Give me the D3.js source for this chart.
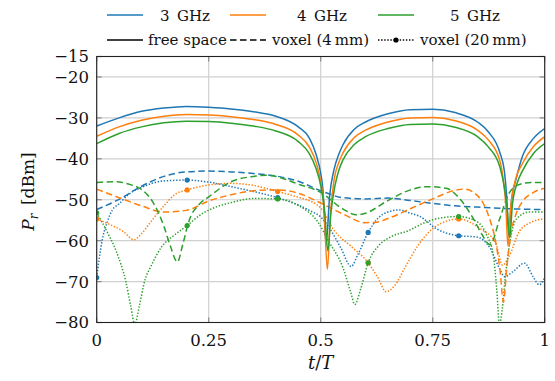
<!DOCTYPE html>
<html><head><meta charset="utf-8">
<script src="https://cdn.jsdelivr.net/npm/d3@7"></script>
<style>
body{margin:0;background:#fff}
svg{display:block}
svg text{font-family:"DejaVu Serif",serif;fill:#111}
</style>
</head><body>
<svg id="c" width="555" height="381"></svg>
<script>
// ---------------- data ----------------
const xTicks = [0, 0.25, 0.5, 0.75, 1];
const xTickLabels = ["0", "0.25", "0.5", "0.75", "1"];
const yTicks = [-15, -20, -30, -40, -50, -60, -70, -80];
const yTickLabels = ["\u221215", "\u221220", "\u221230", "\u221240", "\u221250", "\u221260", "\u221270", "\u221280"];
const freqLabels = ["3\u2002GHz", "4\u2002GHz", "5\u2002GHz"];
const styleLabels = ["free space", "voxel (4\u2009mm)", "voxel (20\u2009mm)"];

// free space
const tFS3 = [0,0.05,0.1,0.15,0.2,0.25,0.3,0.35,0.4,0.45,0.475,0.49,0.5,0.505,0.512,0.52,0.53,0.54,0.55,0.575,0.6,0.65,0.7,0.75,0.8,0.85,0.875,0.9,0.91,0.915,0.92,0.925,0.937,0.95,0.975,1];
const pFS3 = [-32.0,-30.0,-28.4,-27.6,-27.2,-27.4,-27.8,-28.5,-29.6,-32.2,-35.0,-39.0,-43.5,-47.5,-61,-49,-42.5,-39,-36.5,-32.8,-31.0,-29.0,-28.0,-27.9,-28.7,-31.0,-33.5,-38.5,-43,-49,-59,-51,-44.6,-39.5,-35.0,-32.6];
const tFS4 = [0,0.05,0.1,0.15,0.2,0.25,0.3,0.35,0.4,0.45,0.475,0.49,0.5,0.507,0.5148,0.522,0.53,0.54,0.55,0.575,0.6,0.65,0.7,0.75,0.8,0.85,0.875,0.9,0.908,0.913,0.918,0.924,0.935,0.95,0.975,1];
const pFS4 = [-34.5,-32.2,-30.6,-29.6,-29.2,-29.3,-29.7,-30.4,-31.6,-34.2,-37.2,-41,-45.5,-51,-67,-53,-45,-41,-38.5,-34.8,-33.0,-31.0,-30.0,-29.9,-30.7,-33.0,-35.5,-40.5,-45.5,-51,-61.3,-52,-45,-41.2,-37.0,-34.6];
const tFS5 = [0,0.05,0.1,0.15,0.2,0.25,0.3,0.35,0.4,0.45,0.475,0.49,0.5,0.509,0.516,0.523,0.532,0.54,0.55,0.575,0.6,0.65,0.7,0.75,0.8,0.85,0.875,0.9,0.91,0.916,0.922,0.928,0.94,0.95,0.975,1];
const pFS5 = [-36.3,-33.8,-32.2,-31.2,-30.8,-30.9,-31.3,-32.0,-33.2,-35.8,-38.8,-42.5,-46.5,-53,-62.5,-53,-46.5,-43,-40.2,-36.5,-34.6,-32.6,-31.6,-31.5,-32.3,-34.6,-37.2,-42,-47,-52,-59.3,-51,-45.5,-43,-38.7,-36.3];

// voxel 4 mm (dashed)
const tV4_3 = [0,0.05,0.1,0.15,0.2,0.25,0.3,0.35,0.4,0.45,0.5,0.55,0.6,0.65,0.7,0.75,0.8,0.85,0.9,0.95,1];
const pV4_3 = [-52.4,-49.9,-46.7,-44.3,-43.2,-43.0,-43.2,-43.6,-44.2,-45.5,-47.8,-49.5,-49.8,-49.6,-50.2,-50.9,-51.5,-51.8,-52.1,-52.3,-52.4];
const tV4_4 = [0,0.05,0.1,0.15,0.2,0.25,0.3,0.35,0.4,0.45,0.5,0.55,0.6,0.625,0.65,0.7,0.75,0.8,0.82,0.85,0.875,0.89,0.9,0.908,0.915,0.925,0.937,0.95,0.975,1];
const pV4_4 = [-47.4,-49.5,-51.5,-53.0,-52.6,-50.3,-48.8,-47.8,-47.6,-48.4,-50.8,-53.5,-55.6,-55.5,-54.6,-52.2,-49.8,-47.7,-47.4,-49.0,-54.0,-60.0,-67.0,-75.0,-67.0,-58.0,-53.2,-50.5,-48.2,-47.2];
const tV4_5 = [0,0.04,0.075,0.1,0.125,0.15,0.165,0.18,0.192,0.205,0.23,0.25,0.3,0.35,0.38,0.4,0.45,0.5,0.55,0.58,0.6,0.65,0.7,0.74,0.78,0.81,0.84,0.86,0.878,0.9,0.92,0.945,0.97,1];
const pV4_5 = [-45.8,-45.6,-46.3,-47.5,-50.5,-56.5,-61.5,-65.2,-61,-55.5,-51,-49.3,-45.6,-44.3,-44.0,-44.3,-46.2,-48.2,-52.3,-53.7,-53.3,-50.2,-47.6,-46.8,-47.2,-49.7,-54.5,-58.5,-61.0,-54.5,-48.5,-46.2,-45.8,-45.8];

// voxel 20 mm (dotted + marks)
const tV20_3 = [0,0.012,0.025,0.035,0.05,0.07,0.1,0.15,0.202,0.25,0.3,0.35,0.404,0.45,0.48,0.5,0.52,0.545,0.568,0.583,0.606,0.628,0.65,0.675,0.7,0.72,0.76,0.808,0.848,0.878,0.9,0.91,0.93,0.955,0.975,0.988,1];
const pV20_3 = [-69,-60,-55,-52.5,-51,-48.8,-47,-45.4,-45.2,-45.7,-46.8,-48.0,-49.5,-51.3,-52.9,-54.2,-57,-61.8,-66.3,-63.4,-58,-54.5,-53.0,-52.5,-53.3,-54,-57.2,-58.8,-59.1,-61.8,-67,-68.8,-67.5,-65.5,-69,-70.8,-69];
const tV20_4 = [0,0.03,0.06,0.083,0.1,0.12,0.15,0.175,0.202,0.25,0.3,0.35,0.404,0.45,0.48,0.5,0.53,0.57,0.606,0.628,0.646,0.665,0.688,0.717,0.757,0.808,0.855,0.89,0.906,0.92,0.943,0.966,1];
const pV20_4 = [-54.7,-56.1,-57.8,-59.8,-58.3,-55.5,-51.5,-48.7,-47.6,-46.4,-46.0,-46.5,-48.0,-49.4,-50.5,-52,-57.5,-61.6,-65.4,-69.1,-72.5,-71,-66.6,-61.2,-56.5,-54.7,-57,-60.5,-66,-64,-57.8,-55.7,-54.6];
const tV20_5 = [0,0.024,0.045,0.065,0.076,0.085,0.095,0.108,0.12,0.145,0.175,0.202,0.23,0.257,0.3,0.35,0.404,0.45,0.494,0.518,0.55,0.568,0.576,0.59,0.606,0.628,0.658,0.695,0.732,0.77,0.808,0.848,0.87,0.885,0.893,0.899,0.905,0.912,0.922,0.937,0.966,1];
const pV20_5 = [-53.2,-58,-63,-70,-76,-80.5,-76,-69.5,-66.5,-61.5,-58.5,-56.3,-53.8,-52.2,-50.7,-49.7,-49.8,-51.4,-55.5,-60.2,-66.7,-73,-75.6,-71.5,-65.4,-61.4,-59,-57.6,-55.6,-54.4,-54.1,-55.3,-58.5,-63.4,-72,-80.5,-77,-69,-60.5,-54.7,-53,-53];

// markers on voxel 20 mm curves
const markT = [0, 0.202, 0.404, 0.606, 0.808];
const mark3 = [-69, -45.2, -49.5, -58, -58.8];
const mark4 = [-54.7, -47.6, -48.0, -65.4, -54.7];
const mark5 = [-53.2, -56.3, -49.8, -65.4, -54.1];

// ---------------- drawing ----------------
const colors = ["#1f77b4", "#ff7f0e", "#2ca02c"];
const dashes = [null, "6.5,3.5", "1.4,1.7"];
const svg = d3.select("#c");
const x = d3.scaleLinear().domain([0, 1]).range([96.7, 544.7]);
const y = d3.scaleLinear().domain([-80, -15]).range([322.5, 56.5]);
const [x0, x1] = x.range();
const [yb, yt] = y.range();

const grid = svg.append("g");
grid.selectAll("line.v").data(xTicks).join("line")
  .attr("x1", d => x(d)).attr("x2", d => x(d)).attr("y1", yb).attr("y2", yt)
  .attr("stroke", "#d0d0d0").attr("stroke-width", 1.2);
grid.selectAll("line.h").data(yTicks).join("line")
  .attr("y1", d => y(d)).attr("y2", d => y(d)).attr("x1", x0).attr("x2", x1)
  .attr("stroke", "#d0d0d0").attr("stroke-width", 1.2);

const tl = 5;
const tk = svg.append("g").attr("stroke", "#8a8a8a").attr("stroke-width", 1.2);
yTicks.forEach(v => {
  tk.append("line").attr("x1", x0).attr("x2", x0 + tl).attr("y1", y(v)).attr("y2", y(v));
  tk.append("line").attr("x1", x1).attr("x2", x1 - tl).attr("y1", y(v)).attr("y2", y(v));
});
xTicks.forEach(v => {
  tk.append("line").attr("y1", yb).attr("y2", yb - tl).attr("x1", x(v)).attr("x2", x(v));
  tk.append("line").attr("y1", yt).attr("y2", yt + tl).attr("x1", x(v)).attr("x2", x(v));
});

svg.append("defs").append("clipPath").attr("id", "clip")
  .append("rect").attr("x", x0).attr("y", yt).attr("width", x1 - x0).attr("height", yb - yt);

const series = [
  {t: tFS3, p: pFS3, c: 0, s: 0}, {t: tFS4, p: pFS4, c: 1, s: 0}, {t: tFS5, p: pFS5, c: 2, s: 0},
  {t: tV4_3, p: pV4_3, c: 0, s: 1}, {t: tV4_4, p: pV4_4, c: 1, s: 1}, {t: tV4_5, p: pV4_5, c: 2, s: 1},
  {t: tV20_3, p: pV20_3, c: 0, s: 2, m: mark3}, {t: tV20_4, p: pV20_4, c: 1, s: 2, m: mark4}, {t: tV20_5, p: pV20_5, c: 2, s: 2, m: mark5}
];
const line = d3.line().x(d => x(d[0])).y(d => y(d[1])).curve(d3.curveMonotoneX);
const plot = svg.append("g").attr("clip-path", "url(#clip)");
[2, 1, 0].forEach(s => {
  series.filter(d => d.s === s).forEach(d => {
    const pts = d.t.map((t, i) => [t, d.p[i]]);
    plot.append("path").attr("d", line(pts)).attr("fill", "none")
      .attr("stroke", colors[d.c]).attr("stroke-width", 1.5)
      .attr("stroke-dasharray", dashes[s]);
    if (d.m) {
      plot.selectAll(null).data(markT.map((t, i) => [t, d.m[i]])).join("circle")
        .attr("cx", q => x(q[0])).attr("cy", q => y(q[1])).attr("r", 2.6)
        .attr("fill", colors[d.c]);
    }
  });
});

svg.append("rect").attr("x", x0).attr("y", yt).attr("width", x1 - x0).attr("height", yb - yt)
  .attr("fill", "none").attr("stroke", "#222").attr("stroke-width", 1.1);

const tfs = 16.5;
svg.append("g").selectAll("text").data(yTicks).join("text")
  .attr("x", 89).attr("y", d => y(d)).attr("dy", "0.36em")
  .attr("text-anchor", "end").attr("font-size", tfs)
  .text((d, i) => yTickLabels[i]);
svg.append("g").selectAll("text").data(xTicks).join("text")
  .attr("x", d => x(d)).attr("y", 346)
  .attr("text-anchor", "middle").attr("font-size", tfs)
  .text((d, i) => xTickLabels[i]);

const xl = svg.append("text").attr("x", (x0 + x1) / 2).attr("y", 369)
  .attr("text-anchor", "middle").attr("font-size", 18);
xl.append("tspan").attr("font-style", "italic").text("t");
xl.append("tspan").text("/");
xl.append("tspan").attr("font-style", "italic").text("T");

const yl = svg.append("text").attr("transform", `translate(34,${(yt + yb) / 2 + 2}) rotate(-90)`)
  .attr("text-anchor", "middle").attr("font-size", 17);
yl.append("tspan").attr("font-style", "italic").text("P");
yl.append("tspan").attr("font-style", "italic").attr("font-size", 12).attr("dy", 4).text("r");
yl.append("tspan").attr("dy", -4).text("\u2002[dBm]");

const lfs = 15;
const lg = svg.append("g");
const lineX = [[107, 143], [230, 266], [378, 414]];
const freqTextX = [160, 297, 450];
freqLabels.forEach((lab, i) => {
  lg.append("line").attr("x1", lineX[i][0]).attr("x2", lineX[i][1]).attr("y1", 15).attr("y2", 15)
    .attr("stroke", colors[i]).attr("stroke-width", 1.5);
  lg.append("text").attr("x", freqTextX[i]).attr("y", 20.5).attr("font-size", lfs).text(lab);
});
const styleTextX = [148, 272, 420];
styleLabels.forEach((lab, i) => {
  lg.append("line").attr("x1", lineX[i][0]).attr("x2", lineX[i][1]).attr("y1", 40).attr("y2", 40)
    .attr("stroke", "#000").attr("stroke-width", 1.5).attr("stroke-dasharray", dashes[i]);
  if (i === 2) lg.append("circle").attr("cx", (lineX[i][0] + lineX[i][1]) / 2).attr("cy", 40).attr("r", 2.6).attr("fill", "#000");
  lg.append("text").attr("x", styleTextX[i]).attr("y", 45).attr("font-size", lfs).text(lab);
});
</script>
</body></html>
